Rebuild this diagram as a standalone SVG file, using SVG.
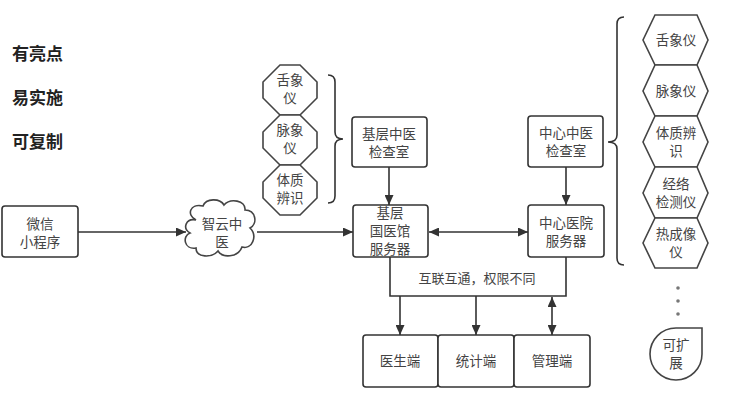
<svg xmlns="http://www.w3.org/2000/svg" width="741" height="411" viewBox="0 0 741 411">
<style>
  text{font-family:"Noto Sans CJK SC","Liberation Sans",sans-serif;fill:#444;font-size:13.5px;text-anchor:middle}
  .big{font-size:17px;font-weight:bold;fill:#222;text-anchor:start}
  .box{fill:#fff;stroke:#333;stroke-width:1.6}
  .shape{fill:#fff;stroke:#444;stroke-width:1.6}
  .ln{fill:none;stroke:#333;stroke-width:1.6}
</style>
<defs>
  <marker id="ah" markerWidth="10" markerHeight="9" refX="10" refY="4.5" orient="auto-start-reverse" markerUnits="userSpaceOnUse">
    <path d="M0,0 L10,4.5 L0,9 z" fill="#333"/>
  </marker>
</defs>
<rect width="741" height="411" fill="#fff"/>

<g id="labels">
  <text class="big" x="12" y="60">有亮点</text>
  <text class="big" x="12" y="104">易实施</text>
  <text class="big" x="12" y="148">可复制</text>
</g>

<g id="connectors">
  <line class="ln" x1="78" y1="232" x2="186" y2="232" marker-end="url(#ah)"/>
  <line class="ln" x1="257" y1="232" x2="353" y2="232" marker-end="url(#ah)"/>
  <line class="ln" x1="429" y1="232" x2="528" y2="232" marker-start="url(#ah)" marker-end="url(#ah)"/>
  <line class="ln" x1="389" y1="167" x2="389" y2="205" marker-end="url(#ah)"/>
  <line class="ln" x1="566" y1="167" x2="566" y2="205" marker-end="url(#ah)"/>
  <path class="ln" d="M390,257 V296 H566 V257"/>
  <line class="ln" x1="400" y1="296" x2="400" y2="335" marker-end="url(#ah)"/>
  <line class="ln" x1="476" y1="296" x2="476" y2="335" marker-end="url(#ah)"/>
  <line class="ln" x1="552" y1="297" x2="552" y2="335" marker-start="url(#ah)" marker-end="url(#ah)"/>
  <path class="ln" d="M328,75 Q335,75 335,82 L335,132 Q335,139 343,139 Q335,139 335,146 L335,196 Q335,203 328,203"/>
  <path class="ln" d="M624,17 Q617,17 617,24 L617,135 Q617,142 608,142 Q617,142 617,149 L617,258 Q617,265 624,265"/>
  <text x="477" y="283" style="font-size:13px">互联互通，权限不同</text>
</g>

<g id="wechat">
  <rect class="box" x="2" y="206" width="76" height="51" rx="3"/>
  <text x="40" y="229">微信</text>
  <text x="40" y="247">小程序</text>
</g>

<g id="cloud">
  <path class="shape" d="M196,220 C186,215 190,203 203,206 C206,198 220,198 224,205 C230,198 246,200 245,210 C256,210 258,224 250,228 C258,236 252,250 242,247 C238,258 222,258 218,251 C212,258 196,258 196,248 C184,250 182,236 190,233 C182,228 186,218 196,220 Z"/>
  <text x="222" y="229">智云中</text>
  <text x="222" y="247">医</text>
</g>

<g id="oct1">
  <path class="shape" d="M280,65 H300 L317,82 V98 L300,115 H280 L263,98 V82 Z"/>
  <text x="290" y="85">舌象</text>
  <text x="290" y="103">仪</text>
</g>
<g id="oct2">
  <path class="shape" d="M280,115 H300 L317,132 V148 L300,165 H280 L263,148 V132 Z"/>
  <text x="290" y="135">脉象</text>
  <text x="290" y="153">仪</text>
</g>
<g id="oct3">
  <path class="shape" d="M280,165 H300 L317,182 V198 L300,215 H280 L263,198 V182 Z"/>
  <text x="290" y="185">体质</text>
  <text x="290" y="203">辨识</text>
</g>

<g id="jiceng-room">
  <rect class="box" x="352" y="117" width="75" height="50" rx="3"/>
  <text x="389" y="139">基层中医</text>
  <text x="389" y="157">检查室</text>
</g>
<g id="jiceng-server">
  <rect class="box" x="353" y="205" width="75" height="52" rx="3"/>
  <text x="390" y="218">基层</text>
  <text x="390" y="236">国医馆</text>
  <text x="390" y="254">服务器</text>
</g>
<g id="center-room">
  <rect class="box" x="528" y="116" width="75" height="51" rx="3"/>
  <text x="566" y="138">中心中医</text>
  <text x="566" y="156">检查室</text>
</g>
<g id="center-server">
  <rect class="box" x="528" y="205" width="76" height="52" rx="3"/>
  <text x="566" y="228">中心医院</text>
  <text x="566" y="246">服务器</text>
</g>

<g id="doctor">
  <rect class="box" x="363" y="335" width="75" height="52" rx="3"/>
  <text x="400" y="366">医生端</text>
</g>
<g id="stats">
  <rect class="box" x="438" y="335" width="76" height="52" rx="3"/>
  <text x="476" y="366">统计端</text>
</g>
<g id="admin">
  <rect class="box" x="514" y="335" width="76" height="52" rx="3"/>
  <text x="552" y="366">管理端</text>
</g>

<g id="hex1">
  <path class="shape" d="M655,15 H697 L708,40 L697,65 H655 L643,40 Z"/>
  <text x="676" y="45">舌象仪</text>
</g>
<g id="hex2">
  <path class="shape" d="M655,65 H697 L708,91 L697,116 H655 L643,91 Z"/>
  <text x="676" y="96">脉象仪</text>
</g>
<g id="hex3">
  <path class="shape" d="M655,116 H697 L708,142 L697,167 H655 L643,142 Z"/>
  <text x="676" y="138">体质辨</text>
  <text x="676" y="156">识</text>
</g>
<g id="hex4">
  <path class="shape" d="M655,167 H697 L708,193 L697,218 H655 L643,193 Z"/>
  <text x="676" y="189">经络</text>
  <text x="676" y="207">检测仪</text>
</g>
<g id="hex5">
  <path class="shape" d="M655,218 H697 L708,243 L697,268 H655 L643,243 Z"/>
  <text x="676" y="239">热成像</text>
  <text x="676" y="257">仪</text>
</g>

<g id="dots" fill="#777">
  <circle cx="678" cy="288" r="1.8"/>
  <circle cx="678" cy="301" r="1.8"/>
  <circle cx="678" cy="314" r="1.8"/>
</g>

<g id="expand">
  <path class="shape" d="M702,328 V354 A26,26 0 1 1 676,328 Z"/>
  <text x="676" y="350">可扩</text>
  <text x="676" y="368">展</text>
</g>
</svg>
